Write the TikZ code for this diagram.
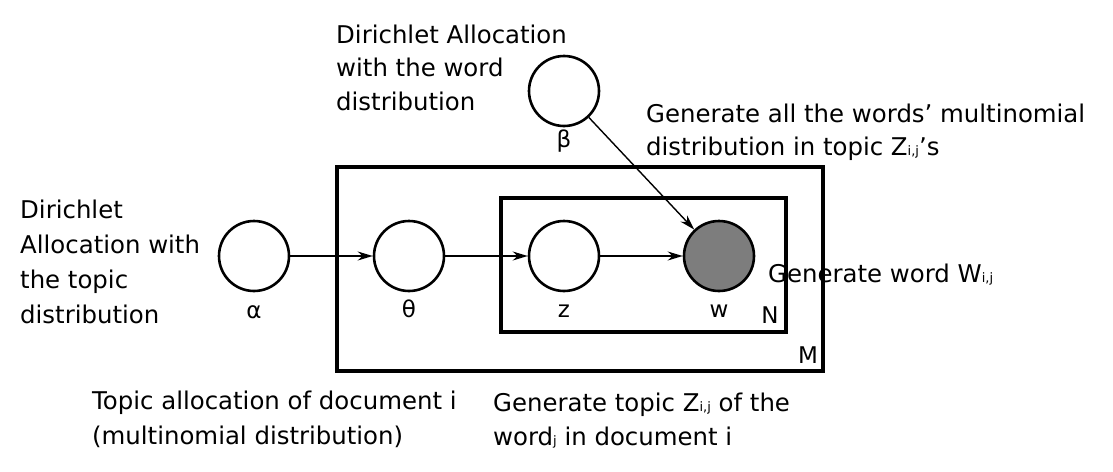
\documentclass[tikz,border=0pt]{standalone}
\usepackage{fontspec}
\setmainfont{DejaVu Sans}
\usetikzlibrary{arrows.meta}
\definecolor{obsgray}{RGB}{125,125,125}
\newcommand\subtxt[1]{{\fontsize{13}{13}\selectfont #1}}
\newcommand\txtsize{\fontsize{24.4}{34}\selectfont}
\begin{document}
\begin{tikzpicture}[x=1pt,y=-1pt,
  var/.style={circle,draw,line width=2.6pt,minimum size=70pt,inner sep=0pt},
  obs/.style={var,fill=obsgray},
  plate/.style={draw,line width=3.8pt},
  lbl/.style={anchor=base,inner sep=0pt,font=\fontsize{23}{23}\selectfont},
  txt/.style={anchor=base west,inner sep=0pt,font=\txtsize},
  edge/.style={line width=1.4pt,-{Stealth[length=15pt,width=9pt]}}]
\useasboundingbox (0,0) rectangle (1113,471);
\fill[white] (0,0) rectangle (1113,471);
% plates
\draw[plate] (337,167) rectangle (823,371);
\draw[plate] (501,198) rectangle (786,332);
% variables
\node[var] (alpha) at (254,256) {};
\node[var] (theta) at (409,256) {};
\node[var] (z) at (564,256) {};
\node[obs] (w) at (719,256) {};
\node[var] (beta) at (564,91) {};
% labels
\node[lbl] (la) at (254,318) {α};
\node[lbl] (lt) at (409,317) {θ};
\node[lbl] (lz) at (564,317) {z};
\node[lbl] (lw) at (719,317) {w};
\node[lbl] (lb) at (564,147) {β};
\node[lbl] (lN) at (770,323) {N};
\node[lbl] (lM) at (808,363) {M};
% edges
\draw[edge] (alpha) -- (theta);
\draw[edge] (theta) -- (z);
\draw[edge] (z) -- (w);
\draw[edge] (beta) -- (w);
% texts
\node[txt] (t1) at (336,43) {\baselineskip=33.5pt\vtop{\hbox{Dirichlet Allocation}\hbox{with the word}\hbox{distribution}}};
\node[txt] (t2) at (20,218) {\baselineskip=35pt\vtop{\hbox{Dirichlet}\hbox{Allocation with}\hbox{the topic}\hbox{distribution}}};
\node[txt] (t3) at (646,122) {\baselineskip=33pt\vtop{\hbox{Generate all the words’ multinomial}\hbox{distribution in topic Z\subtxt{i,j}’s}}};
\node[txt] (t4) at (768,282) {Generate word W\subtxt{i,j}};
\node[txt] (t5) at (92,409) {\baselineskip=35pt\vtop{\hbox{Topic allocation of document i}\hbox{(multinomial distribution)}}};
\node[txt] (t6) at (493,411) {\baselineskip=34pt\vtop{\hbox{Generate topic Z\subtxt{i,j} of the}\hbox{word\subtxt{j} in document i}}};
\end{tikzpicture}
\end{document}
